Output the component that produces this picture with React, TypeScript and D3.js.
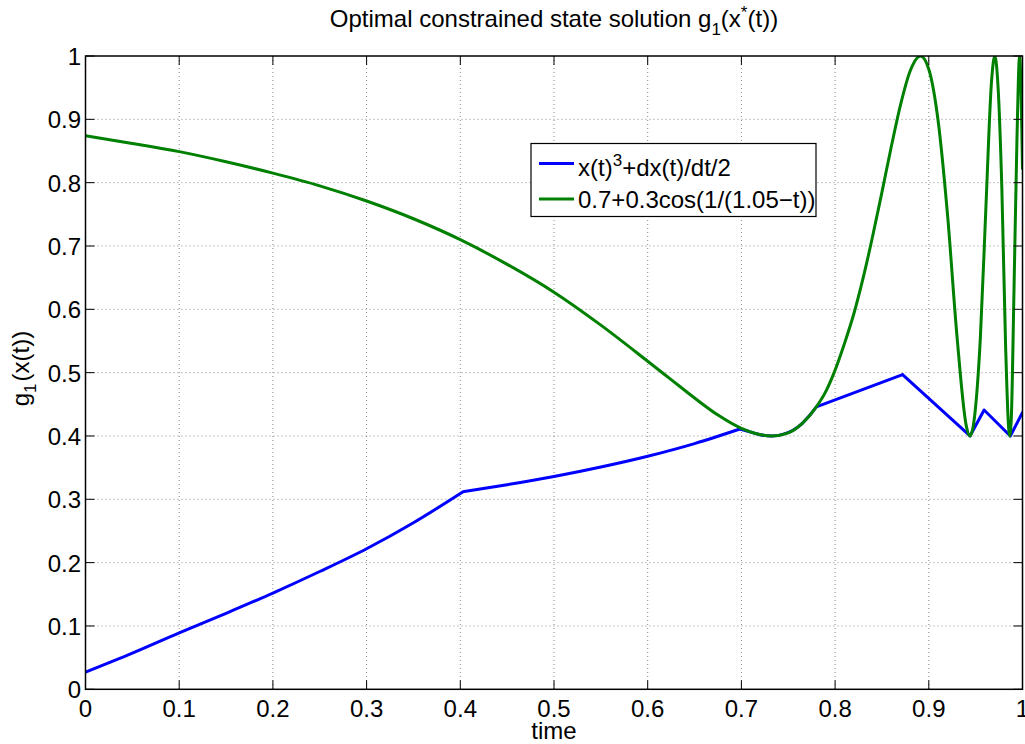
import * as d3 from "d3";

// time samples and values
const blueT = [
  0, 0.05, 0.1, 0.15, 0.2, 0.25, 0.3, 0.35, 0.403,
  0.45, 0.5, 0.55, 0.6, 0.65, 0.6985,
  0.71, 0.72, 0.732, 0.745, 0.755, 0.765, 0.772, 0.78,
  0.872, 0.944, 0.959, 0.987, 1.0,
];
const blueG = [
  0.027, 0.057, 0.089, 0.12, 0.152, 0.186, 0.222, 0.263, 0.312,
  0.323, 0.336, 0.351, 0.368, 0.388, 0.411,
  0.406, 0.402, 0.4, 0.403, 0.409, 0.42, 0.431, 0.446,
  0.497, 0.4, 0.441, 0.4, 0.437,
];
// indices in blueT where the curve has a corner
const blueCorners = [0, 8, 14, 22, 23, 24, 25, 26, 27];

const greenT = [
  0, 0.05, 0.1, 0.15, 0.2, 0.25, 0.3, 0.35, 0.4, 0.45, 0.5, 0.55, 0.6,
  0.625, 0.65, 0.675, 0.7, 0.715, 0.732, 0.75, 0.765, 0.78, 0.79, 0.8,
  0.81, 0.82, 0.83, 0.84, 0.85, 0.86, 0.87, 0.88, 0.891, 0.9, 0.91, 0.92,
  0.93, 0.94, 0.9439, 0.948, 0.955, 0.961, 0.967, 0.9704, 0.974, 0.978,
  0.982, 0.9863, 0.988, 0.991, 0.994, 0.9969, 1.0,
];
const greenG = [
  0.874, 0.862, 0.849, 0.833, 0.815, 0.795, 0.771, 0.743, 0.71, 0.671, 0.627, 0.575, 0.518,
  0.489, 0.46, 0.433, 0.412, 0.404, 0.4, 0.405, 0.42, 0.446, 0.47, 0.504,
  0.546, 0.593, 0.65, 0.715, 0.785, 0.857, 0.924, 0.976, 1.0, 0.979, 0.897, 0.749,
  0.559, 0.416, 0.4, 0.421, 0.554, 0.763, 0.961, 1.0, 0.949, 0.789,
  0.54, 0.4, 0.426, 0.636, 0.863, 1.0, 0.822,
];

const xTicks = [0, 0.1, 0.2, 0.3, 0.4, 0.5, 0.6, 0.7, 0.8, 0.9, 1];
const yTicks = [0, 0.1, 0.2, 0.3, 0.4, 0.5, 0.6, 0.7, 0.8, 0.9, 1];
const tickLabels = ["0", "0.1", "0.2", "0.3", "0.4", "0.5", "0.6", "0.7", "0.8", "0.9", "1"];

const W = 1025;
const H = 744;
const L = 85.5, R = 1022.5, T = 56, B = 689.3;
const FONT = "Helvetica, Arial, 'Liberation Sans', sans-serif";
const FS = 24;
const SFS = 17;

type Pt = [number, number];

export default function App() {
  const x = d3.scaleLinear().domain([0, 1]).range([L, R]);
  const y = d3.scaleLinear().domain([0, 1]).range([B, T]);

  const smooth = d3
    .line<Pt>()
    .x((d) => x(d[0]))
    .y((d) => y(d[1]))
    .curve(d3.curveMonotoneX);

  const bluePts: Pt[] = blueT.map((t, i) => [t, blueG[i]]);
  // each stretch between two corners is drawn smooth, corners stay sharp
  const bluePath = blueCorners
    .slice(1)
    .map((end, k) => smooth(bluePts.slice(blueCorners[k], end + 1)) ?? "")
    .join("");
  const greenPath = smooth(greenT.map((t, i) => [t, greenG[i]] as Pt)) ?? "";

  const tickLen = 9;

  return (
    <svg
      width={W}
      height={H}
      style={{ position: "absolute", left: 0, top: 0, background: "#fff" }}
      fontFamily={FONT}
    >
      <defs>
        <clipPath id="plot">
          <rect x={L} y={T} width={R - L} height={B - T} />
        </clipPath>
      </defs>

      {/* grid */}
      <g stroke="#8a8a8a" strokeWidth={1} strokeDasharray="1,3">
        {xTicks.slice(1, -1).map((t) => (
          <line key={"gx" + t} x1={x(t)} x2={x(t)} y1={T} y2={B} />
        ))}
        {yTicks.slice(1, -1).map((t) => (
          <line key={"gy" + t} x1={L} x2={R} y1={y(t)} y2={y(t)} />
        ))}
      </g>

      {/* series */}
      <g clipPath="url(#plot)" fill="none" strokeWidth={3} strokeLinejoin="round" strokeLinecap="round">
        <path d={bluePath} stroke="#0000ff" />
        <path d={greenPath} stroke="#008000" />
      </g>

      {/* ticks */}
      <g stroke="#000" strokeWidth={1}>
        {xTicks.map((t) => (
          <g key={"tx" + t}>
            <line x1={x(t)} x2={x(t)} y1={B} y2={B - tickLen} />
            <line x1={x(t)} x2={x(t)} y1={T} y2={T + tickLen} />
          </g>
        ))}
        {yTicks.map((t) => (
          <g key={"ty" + t}>
            <line x1={L} x2={L + tickLen} y1={y(t)} y2={y(t)} />
            <line x1={R} x2={R - tickLen} y1={y(t)} y2={y(t)} />
          </g>
        ))}
      </g>
      <rect x={L} y={T} width={R - L} height={B - T} fill="none" stroke="#000" strokeWidth={1.5} />

      {/* tick labels */}
      <g fontSize={FS} fill="#000">
        {xTicks.map((t, i) => (
          <text key={"lx" + t} x={x(t)} y={716.5} textAnchor="middle">
            {tickLabels[i]}
          </text>
        ))}
        {yTicks.map((t, i) => (
          <text key={"ly" + t} x={81} y={y(t) + 9} textAnchor="end">
            {tickLabels[i]}
          </text>
        ))}
      </g>

      {/* axis labels */}
      <text x={(L + R) / 2} y={739} textAnchor="middle" fontSize={FS}>
        time
      </text>
      <text transform={`translate(29,${368.5}) rotate(-90)`} textAnchor="middle" fontSize={FS}>
        g
        <tspan fontSize={SFS} dy={7}>1</tspan>
        <tspan dy={-7} dx={2}>(x(t))</tspan>
      </text>

      {/* title */}
      <text x={(L + R) / 2} y={27} textAnchor="middle" fontSize={FS}>
        Optimal constrained state solution g
        <tspan fontSize={SFS} dy={8}>1</tspan>
        <tspan dy={-8}>(x</tspan>
        <tspan fontSize={SFS} dy={-9}>*</tspan>
        <tspan dy={9}>(t))</tspan>
      </text>

      {/* legend */}
      <g>
        <rect x={531} y={143.5} width={285} height={73} fill="#fff" stroke="#000" strokeWidth={1.2} />
        <line x1={539} x2={574} y1={163.5} y2={163.5} stroke="#0000ff" strokeWidth={3} />
        <line x1={539} x2={574} y1={199} y2={199} stroke="#008000" strokeWidth={3} />
        <text x={578} y={176} fontSize={FS}>
          x(t)
          <tspan fontSize={SFS} dy={-10}>3</tspan>
          <tspan dy={10}>+dx(t)/dt/2</tspan>
        </text>
        <text x={578} y={208} fontSize={FS}>
          0.7+0.3cos(1/(1.05−t))
        </text>
      </g>
    </svg>
  );
}
